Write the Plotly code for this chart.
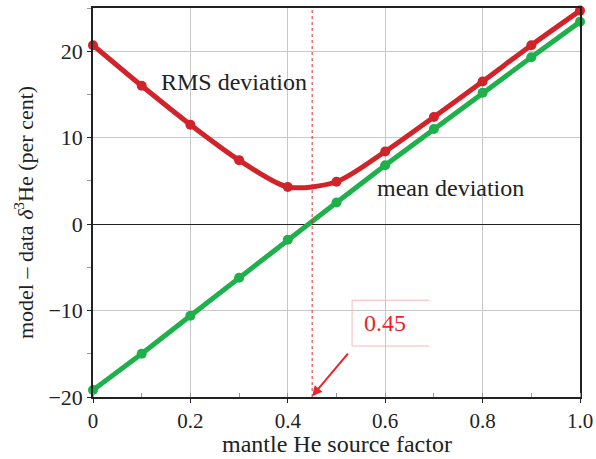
import plotly.graph_objects as go

factor = [0.0, 0.1, 0.2, 0.3, 0.4, 0.5, 0.6, 0.7, 0.8, 0.9, 1.0]
rms_dev = [20.7, 16.0, 11.5, 7.4, 4.3, 4.9, 8.4, 12.4, 16.5, 20.7, 24.7]
mean_dev = [-19.2, -15.0, -10.6, -6.2, -1.8, 2.5, 6.8, 11.0, 15.2, 19.3, 23.4]
best_factor = 0.45
x_ticks = [0, 0.2, 0.4, 0.6, 0.8, 1.0]
x_tick_labels = ["0", "0.2", "0.4", "0.6", "0.8", "1.0"]
y_ticks = [-20, -10, 0, 10, 20]

RED = "#d1232a"
GREEN = "#1eb14b"
FONT = "Liberation Serif"

fig = go.Figure()
fig.add_trace(go.Scatter(x=factor, y=mean_dev, mode="lines+markers",
                         line=dict(color=GREEN, width=5),
                         marker=dict(color=GREEN, size=10), cliponaxis=False))
fig.add_trace(go.Scatter(x=factor, y=rms_dev, mode="lines+markers",
                         line=dict(color=RED, width=5, shape="spline", smoothing=0.8),
                         marker=dict(color=RED, size=10), cliponaxis=False))

fig.add_vline(x=best_factor, line=dict(color="#e8262c", width=1, dash="dot"))

# annotation box (three sides)
fig.add_shape(type="path", path="M 0.69 -8.8 L 0.532 -8.8 L 0.532 -14.1 L 0.69 -14.1",
              line=dict(color="#f5b8bb", width=1), xref="x", yref="y")
fig.add_annotation(x=0.60, y=-11.45, text="0.45", showarrow=False,
                   font=dict(family=FONT, size=24, color="#e8262c"))
fig.add_annotation(x=best_factor, y=-19.9, ax=0.526, ay=-14.8, axref="x", ayref="y",
                   xref="x", yref="y", text="", showarrow=True, arrowhead=2,
                   arrowsize=1, arrowwidth=2, arrowcolor="#e8262c")

fig.add_annotation(x=0.29, y=16.4, text="RMS deviation", showarrow=False,
                   font=dict(family=FONT, size=24, color="#222"))
fig.add_annotation(x=0.735, y=4.2, text="mean deviation", showarrow=False,
                   font=dict(family=FONT, size=24, color="#222"))

# axis titles
fig.add_annotation(x=0.5, y=0, xref="paper", yref="paper", yshift=-47, yanchor="middle",
                   text="mantle He source factor", showarrow=False,
                   font=dict(family=FONT, size=24, color="#222"))
fig.add_annotation(x=0, y=0.473, xref="paper", yref="paper", xshift=-69, xanchor="center",
                   yanchor="middle", textangle=-90,
                   text="model – data <i>δ</i><sup>3</sup>He (per cent)", showarrow=False,
                   font=dict(family=FONT, size=22, color="#222"))

fig.update_layout(
    width=596, height=459,
    margin=dict(l=93, r=16, t=8, b=62),
    paper_bgcolor="white", plot_bgcolor="white",
    showlegend=False,
    font=dict(family=FONT, size=22, color="#222"),
)
fig.update_xaxes(range=[0, 1.0], tickvals=x_ticks, ticktext=x_tick_labels,
                 automargin=False, tickfont=dict(size=21),
                 showgrid=True, gridcolor="#c8c8c8", gridwidth=1,
                 showline=True, linecolor="#222", linewidth=1.5, mirror=True,
                 ticks="outside", ticklen=4, tickcolor="#222",
                 minor=dict(dtick=0.1, ticks="inside", ticklen=4, tickcolor="#999", showgrid=False),
                 zeroline=False)
fig.update_yaxes(range=[-20, 25], tickvals=y_ticks,
                 automargin=False,
                 showgrid=True, gridcolor="#c8c8c8", gridwidth=1,
                 showline=True, linecolor="#222", linewidth=1.5, mirror=True,
                 ticks="outside", ticklen=4, tickcolor="#222",
                 minor=dict(dtick=5, ticks="outside", ticklen=4, tickcolor="#999", showgrid=False),
                 zeroline=True, zerolinecolor="#222", zerolinewidth=1)

fig.write_html("out.html", config={"displayModeBar": False},
               post_script="document.body.style.margin='0';document.body.style.overflow='hidden';")
